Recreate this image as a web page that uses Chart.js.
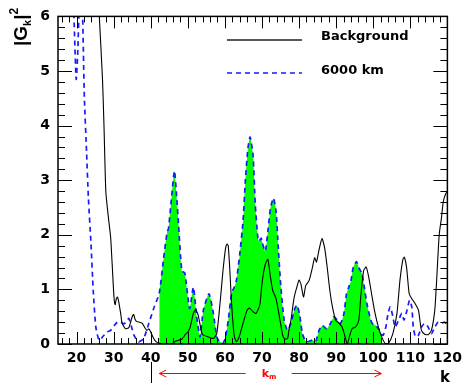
<!DOCTYPE html>
<html><head><meta charset="utf-8">
<script src="https://cdn.jsdelivr.net/npm/chart.js@4.4.1/dist/chart.umd.min.js"></script>
<style>html,body{margin:0;padding:0;background:#fff}canvas{display:block}</style>
</head><body>
<canvas id="c" width="468" height="385"></canvas>
<script>
// Background (black solid)
const bgK = [24,26.1,27.0,27.4,27.9,28.6,29.2,29.7,30.1,30.4,30.7,31.0,31.3,31.9,32.3,33.2,34.1,35.0,35.4,35.8,36.3,37.0,37.7,38.4,39.0,39.5,40.0,40.8,41.5,42.2,43.5,44.8,46.1,46.6,47.5,48.4,49.3,50.0,50.6,51.5,52.1,52.8,53.6,54.0,55.5,56.9,57.8,58.7,59.5,60.2,60.6,60.9,61.3,61.8,62.5,63.1,63.8,64.9,66.0,66.6,67.6,68.4,69.4,69.9,70.5,71.0,71.6,72.3,72.9,73.8,74.7,75.6,76.2,76.9,77.4,77.8,78.3,78.7,79.4,80.0,80.5,81.2,81.8,82.7,83.6,84.2,84.7,85.4,86.2,86.9,87.6,88.3,89.0,89.9,90.8,91.6,92.3,93.0,93.6,94.3,95.2,96.1,96.7,97.4,98.1,98.8,99.7,100.5,101.4,102.3,103.2,104.1,105.3,106.4,107.2,108.0,108.4,109.0,109.7,110.4,111.3,112.2,113.0,113.9,114.8,115.7,116.6,117.1,117.8,118.4,118.9,119.6,120];
const bgVal = [9.0,6.05,4.85,4.0,2.79,2.31,1.95,1.34,0.86,0.72,0.82,0.86,0.80,0.56,0.38,0.28,0.30,0.50,0.54,0.45,0.41,0.40,0.38,0.30,0.25,0.28,0.22,0.10,0.04,0.02,0.0,0.0,0.02,0.05,0.07,0.09,0.17,0.22,0.30,0.56,0.63,0.53,0.25,0.17,0.13,0.10,0.19,0.75,1.35,1.76,1.83,1.80,1.40,0.75,0.16,0.04,0.12,0.38,0.62,0.66,0.59,0.56,0.71,1.04,1.34,1.48,1.55,1.22,0.98,0.83,0.50,0.16,0.09,0.10,0.31,0.43,0.68,0.86,1.04,1.17,1.10,0.86,1.07,1.16,1.40,1.58,1.50,1.73,1.93,1.76,1.40,0.98,0.68,0.43,0.38,0.31,0.16,0.0,0.14,0.28,0.31,0.43,0.92,1.34,1.41,1.22,0.86,0.56,0.31,0.13,0.01,0.01,0.19,0.56,1.16,1.55,1.59,1.40,0.92,0.83,0.74,0.62,0.25,0.18,0.17,0.25,0.62,1.16,2.01,2.31,2.61,2.76,2.79];

// 6000 km (blue dashed)
const kmK = [15,18.5,19.3,19.9,20.3,20.8,21.4,22.1,22.7,23.2,23.9,24.5,25.2,26.1,27.4,28.3,29.2,30.1,31.0,31.9,32.8,33.5,34.1,34.8,35.5,36.2,36.8,38.1,39.5,40.8,42.3,43.5,44.4,44.8,45.5,46.4,47.0,47.5,48.4,49.2,50.5,51.5,52.4,53.3,54.2,55.7,56.9,57.8,58.5,59.5,60.2,60.9,61.8,62.5,63.1,64.0,64.9,65.5,66.2,66.8,67.6,68.2,68.9,69.2,69.8,70.1,70.9,71.6,72.3,73.1,73.8,74.4,75.1,76.0,76.9,77.8,78.7,79.4,80.1,80.9,81.8,82.7,83.6,84.5,85.4,86.3,87.4,88.5,89.4,90.3,91.2,92.1,92.8,93.4,94.0,94.6,95.5,96.1,97.0,97.6,98.3,99.1,99.7,100.5,101.4,102.2,102.7,103.4,104.0,104.6,105.3,105.9,106.8,107.7,108.3,109.0,109.8,110.4,110.8,111.4,112.2,113.0,113.9,114.8,115.7,116.6,117.5,118.4,119.3,120];
const kmVal = [9.0,7.5,6.0,4.85,5.3,6.3,6.6,4.54,3.52,2.67,1.83,0.98,0.31,0.07,0.16,0.22,0.25,0.33,0.40,0.40,0.37,0.42,0.47,0.32,0.16,0.08,0.04,0.10,0.38,0.65,0.93,1.58,2.04,2.12,2.6,3.17,2.7,2.19,1.34,1.30,0.65,1.04,0.50,0.13,0.62,0.92,0.56,0.13,0.05,0.02,0.13,0.43,0.92,1.04,1.16,1.64,2.25,2.97,3.58,3.79,3.46,2.55,1.94,1.88,1.94,1.85,1.70,2.07,2.49,2.67,2.43,1.76,1.04,0.43,0.25,0.38,0.62,0.71,0.56,0.19,0.05,0.05,0.07,0.05,0.25,0.34,0.28,0.38,0.50,0.44,0.38,0.56,0.92,1.04,1.16,1.40,1.51,1.40,1.28,1.04,0.74,0.50,0.38,0.35,0.28,0.18,0.16,0.31,0.56,0.68,0.50,0.31,0.43,0.56,0.44,0.59,0.80,0.68,0.31,0.13,0.16,0.31,0.38,0.31,0.19,0.31,0.40,0.38,0.40,0.31];

const seriesNames = ['Background', '6000 km'];
const xTickLabels = [20, 30, 40, 50, 60, 70, 80, 90, 100, 110, 120];
const yTickLabels = [0, 1, 2, 3, 4, 5, 6];
const fillRange = [42.3, 102.2];   // k_m window (green area)
const markerK = 40;

const toPts = (ks, vs) => ks.map((k, i) => ({x: k, y: vs[i]}));
const fillPts = toPts(kmK, kmVal).filter(p => p.x >= fillRange[0] && p.x <= fillRange[1]);

const decor = {
  id: 'decor',
  afterDraw(chart) {
    const {ctx, chartArea: a, scales: {x, y}} = chart;
    ctx.save();
    ctx.strokeStyle = '#000';
    ctx.lineWidth = 1;
    // ticks
    ctx.beginPath();
    for (let v = 16; v <= 120; v += 2) {
      const px = Math.round(x.getPixelForValue(v)) + 0.5;
      const len = v % 10 === 0 ? 12 : 6;
      ctx.moveTo(px, a.bottom); ctx.lineTo(px, a.bottom - len);
      ctx.moveTo(px, a.top); ctx.lineTo(px, a.top + len);
    }
    for (let i = 0; i <= 30; i++) {
      const v = i / 5;
      const py = Math.round(y.getPixelForValue(v)) + 0.5;
      const len = i % 5 === 0 ? 14 : 7;
      ctx.moveTo(a.left, py); ctx.lineTo(a.left + len, py);
      ctx.moveTo(a.right, py); ctx.lineTo(a.right - len, py);
    }
    ctx.stroke();
    // frame
    ctx.lineWidth = 1.5;
    ctx.strokeRect(a.left, a.top, a.right - a.left, a.bottom - a.top);

    // legend
    ctx.lineWidth = 1.3;
    ctx.strokeStyle = '#222';
    ctx.beginPath(); ctx.moveTo(227, 40); ctx.lineTo(302, 40); ctx.stroke();
    ctx.strokeStyle = '#1a1aff';
    ctx.lineWidth = 1.6;
    ctx.setLineDash([5, 4]);
    ctx.beginPath(); ctx.moveTo(227, 73); ctx.lineTo(302, 73); ctx.stroke();
    ctx.setLineDash([]);
    ctx.fillStyle = '#000';
    ctx.font = 'bold 13px "DejaVu Sans"';
    ctx.textBaseline = 'alphabetic';
    ctx.textAlign = 'left';
    ctx.fillText(seriesNames[0], 321, 40);
    ctx.fillText(seriesNames[1], 321, 74);

    // y title |G_k|^2
    ctx.save();
    ctx.translate(27, 46);
    ctx.rotate(-Math.PI / 2);
    ctx.font = 'bold 19px "Liberation Sans"';
    let cx = 0;
    ctx.fillText('|G', cx, 0); cx += ctx.measureText('|G').width;
    ctx.font = 'bold 11px "Liberation Sans"';
    ctx.fillText('k', cx, 4); cx += ctx.measureText('k').width;
    ctx.font = 'bold 19px "Liberation Sans"';
    ctx.fillText('|', cx, 0); cx += ctx.measureText('|').width;
    ctx.font = 'bold 12px "Liberation Sans"';
    ctx.fillText('2', cx, -9);
    ctx.restore();

    // x title k
    ctx.font = 'bold 15px "DejaVu Sans"';
    ctx.textAlign = 'center';
    ctx.fillText('k', 445, 382);

    // marker line below axis
    const mx = Math.round(x.getPixelForValue(markerK)) + 0.5;
    ctx.strokeStyle = '#000';
    ctx.lineWidth = 1;
    ctx.beginPath(); ctx.moveTo(mx, 362); ctx.lineTo(mx, 383); ctx.stroke();

    // red k_m arrows
    const x0 = x.getPixelForValue(fillRange[0]);
    const x1 = x.getPixelForValue(fillRange[1]);
    const ay = 373.5;
    const mid = x.getPixelForValue(71.8);
    ctx.strokeStyle = '#ff0000';
    ctx.fillStyle = '#ff0000';
    ctx.lineWidth = 1;
    ctx.beginPath();
    ctx.moveTo(x0, ay); ctx.lineTo(mid - 23, ay);
    ctx.moveTo(mid + 23, ay); ctx.lineTo(x1, ay);
    ctx.moveTo(x0 + 7, ay - 3.5); ctx.lineTo(x0, ay); ctx.lineTo(x0 + 7, ay + 3.5);
    ctx.moveTo(x1 - 7, ay - 3.5); ctx.lineTo(x1, ay); ctx.lineTo(x1 - 7, ay + 3.5);
    ctx.stroke();
    ctx.textAlign = 'left';
    ctx.font = 'bold 11px "DejaVu Sans"';
    ctx.fillText('k', mid - 7, 377);
    const kw = ctx.measureText('k').width;
    ctx.font = 'bold 7px "DejaVu Sans"';
    ctx.fillText('m', mid - 7 + kw, 379);
    ctx.restore();
  }
};

new Chart(document.getElementById('c'), {
  type: 'line',
  data: {
    datasets: [
      { label: seriesNames[0], data: toPts(bgK, bgVal), borderColor: '#000', borderWidth: 1.1,
        pointRadius: 0, fill: false, tension: 0.2, order: 0, clip: 0 },
      { label: seriesNames[1], data: toPts(kmK, kmVal), borderColor: '#1a1aff', borderWidth: 1.7,
        borderDash: [5, 4], pointRadius: 0, fill: false, tension: 0.2, order: 1, clip: 0 },
      { label: 'fill', data: fillPts, borderWidth: 0, borderColor: 'rgba(0,0,0,0)',
        backgroundColor: '#00ff00', pointRadius: 0, fill: 'origin', tension: 0.2, order: 2, clip: 0 }
    ]
  },
  options: {
    responsive: false,
    animation: false,
    devicePixelRatio: 1,
    layout: { padding: { top: 13, right: 17, left: 0, bottom: 0 } },
    plugins: { legend: { display: false }, tooltip: { enabled: false } },
    scales: {
      x: {
        type: 'linear', min: 15, max: 120,
        grid: { display: false, drawTicks: false }, border: { display: false },
        afterBuildTicks: s => { s.ticks = xTickLabels.map(v => ({ value: v })); },
        afterFit: s => { s.height = 41; },
        ticks: { padding: 6, maxRotation: 0, autoSkip: false, color: '#000',
          font: { family: 'DejaVu Sans', weight: 'bold', size: 14 } }
      },
      y: {
        type: 'linear', min: 0, max: 6,
        grid: { display: false, drawTicks: false }, border: { display: false },
        afterBuildTicks: s => { s.ticks = yTickLabels.map(v => ({ value: v })); },
        afterFit: s => { s.width = 58; },
        ticks: { padding: 8, color: '#000',
          font: { family: 'DejaVu Sans', weight: 'bold', size: 14 } }
      }
    }
  },
  plugins: [decor]
});
</script>
</body></html>
